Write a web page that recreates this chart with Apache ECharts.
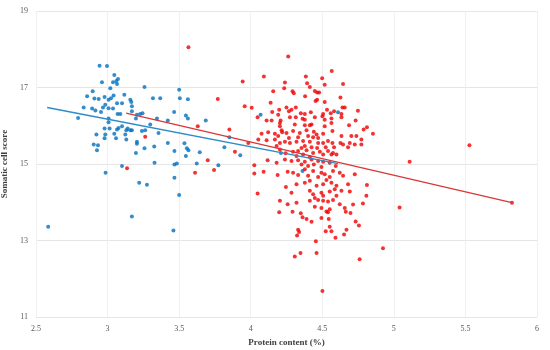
<!DOCTYPE html>
<html><head><meta charset="utf-8">
<script src="https://cdn.jsdelivr.net/npm/echarts@6/dist/echarts.min.js"></script>
<style>html,body{margin:0;padding:0;background:#fff}#c{width:550px;height:350px}</style>
</head><body><div id="c"></div>
<script>
const xAxisName = "Protein content (%)";
const yAxisName = "Somatic cell score";
const xRange = [2.5, 6, 0.5];
const yRange = [11, 19, 2];

const blueData = [
[2.944,17.57],[2.996,17.56],[3.047,17.33],[3.073,17.22],[3.061,17.17],[2.961,17.14],[3.038,17.14],[3.066,17.09],
[3.019,16.98],[3.258,17.01],[2.896,16.90],[2.857,16.77],[3.042,16.79],[3.117,16.81],[2.979,16.75],[2.908,16.71],
[2.938,16.70],[3.007,16.68],[3.024,16.72],[3.159,16.68],[3.317,16.72],[3.368,16.72],[3.066,16.59],[3.101,16.59],
[3.166,16.62],[2.984,16.55],[2.833,16.48],[2.892,16.45],[2.968,16.48],[3.007,16.46],[3.038,16.45],[2.915,16.40],
[2.954,16.36],[3.170,16.51],[3.070,16.31],[3.089,16.31],[3.170,16.38],[3.205,16.29],[3.228,16.31],[3.244,16.33],
[2.794,16.20],[3.007,16.19],[3.198,16.19],[3.345,16.19],[3.500,16.94],[3.505,16.72],[3.561,16.69],[3.465,16.36],
[3.547,16.27],[3.561,16.19],[4.069,16.29],[3.686,16.14],[3.421,16.14],[4.610,16.35],[3.007,16.09],[2.979,15.93],
[3.014,15.93],[3.077,15.94],[3.101,15.99],[3.066,15.90],[3.131,15.88],[3.140,15.93],[3.159,15.88],[3.170,15.88],
[2.922,15.77],[2.984,15.77],[3.047,15.79],[3.124,15.77],[3.240,15.86],[3.263,15.88],[3.298,16.03],[3.356,15.81],
[2.979,15.67],[3.059,15.67],[3.131,15.64],[3.205,15.58],[3.205,15.53],[2.903,15.51],[2.933,15.49],[2.926,15.36],
[3.326,15.46],[3.258,15.41],[3.198,15.29],[3.328,15.03],[3.101,14.95],[2.986,14.77],[3.221,14.51],[3.275,14.46],
[3.851,15.70],[3.421,15.55],[3.537,15.54],[3.554,15.41],[3.565,15.36],[3.644,15.31],[3.467,15.34],[3.816,15.44],
[3.547,15.21],[3.927,15.23],[4.211,15.29],[3.623,15.01],[3.467,14.99],[3.484,15.01],[3.774,14.97],[3.467,14.64],
[3.500,14.19],[4.362,14.82],[2.585,13.36],[3.170,13.63],[3.460,13.26]
];

const redData = [
[3.565,18.05],[4.262,17.81],[4.092,17.29],[3.944,17.16],[4.239,17.13],[4.234,16.98],[4.157,16.90],[3.770,16.70],
[4.139,16.60],[3.958,16.51],[4.007,16.47],[4.250,16.48],[4.150,16.36],[4.199,16.42],[4.267,16.38],[4.048,16.22],
[4.192,16.29],[4.111,16.14],[4.146,16.14],[4.209,16.14],[4.566,17.43],[4.385,17.29],[4.499,17.24],[4.394,17.11],
[4.517,17.07],[4.645,17.09],[4.413,17.01],[4.292,16.90],[4.301,16.85],[4.448,16.91],[4.464,16.87],[4.478,16.87],
[4.380,16.77],[4.627,16.74],[4.464,16.68],[4.453,16.65],[4.517,16.62],[4.315,16.48],[4.285,16.42],[4.641,16.48],
[4.657,16.48],[4.533,16.42],[4.749,16.39],[4.350,16.33],[4.378,16.31],[4.420,16.35],[4.506,16.31],[4.501,16.25],
[4.559,16.33],[4.582,16.38],[4.634,16.31],[4.634,16.22],[4.315,16.22],[4.274,16.22],[4.362,16.18],[4.378,16.16],
[4.448,16.22],[4.517,16.16],[4.564,16.19],[4.733,16.14],[3.263,15.71],[3.136,14.89],[3.630,15.99],[3.851,15.90],
[4.204,16.07],[4.204,15.99],[4.216,15.88],[4.076,15.79],[4.122,15.83],[4.169,15.79],[4.192,15.73],[4.220,15.83],
[4.250,15.81],[3.983,15.55],[4.053,15.64],[4.111,15.62],[4.169,15.64],[4.204,15.55],[4.239,15.58],[4.267,15.68],
[3.890,15.32],[4.204,15.38],[4.181,15.47],[4.244,15.28],[3.700,15.10],[4.025,14.97],[4.118,15.10],[4.181,15.03],
[4.239,15.12],[3.744,14.84],[3.611,14.77],[4.025,14.75],[4.090,14.80],[4.188,14.71],[4.258,14.80],[4.246,14.40],
[4.048,14.23],[4.204,14.04],[4.258,13.95],[4.308,16.03],[4.378,16.01],[4.413,16.01],[4.425,16.03],[4.517,15.99],
[4.564,16.07],[4.687,16.01],[4.789,15.90],[4.812,15.96],[4.296,15.86],[4.343,15.81],[4.390,15.88],[4.441,15.84],
[4.460,15.77],[4.506,15.79],[4.571,15.86],[4.331,15.70],[4.401,15.73],[4.436,15.70],[4.471,15.68],[4.634,15.73],
[4.703,15.73],[4.738,15.73],[4.854,15.79],[4.773,15.64],[4.274,15.55],[4.320,15.58],[4.366,15.60],[4.413,15.58],
[4.471,15.55],[4.506,15.55],[4.540,15.60],[4.571,15.55],[4.645,15.51],[4.692,15.55],[4.727,15.51],[4.773,15.51],
[4.378,15.47],[4.425,15.44],[4.464,15.42],[4.524,15.44],[4.582,15.44],[4.627,15.55],[4.680,15.44],[4.355,15.42],
[4.296,15.32],[4.331,15.34],[4.390,15.36],[4.436,15.29],[4.483,15.32],[4.540,15.34],[4.575,15.29],[4.320,15.21],
[4.366,15.25],[4.413,15.18],[4.506,15.25],[4.564,15.25],[4.599,15.25],[4.285,15.08],[4.331,15.10],[4.378,15.06],
[4.425,15.12],[4.471,15.08],[4.506,15.06],[4.552,15.03],[4.355,14.99],[4.401,14.95],[4.441,14.99],[4.494,14.92],
[4.594,14.95],[5.110,15.06],[4.296,14.77],[4.378,14.86],[4.436,14.82],[4.494,14.77],[4.517,14.73],[4.575,14.82],
[4.622,14.77],[4.331,14.71],[4.401,14.69],[4.471,14.66],[4.552,14.66],[4.645,14.69],[4.727,14.73],[4.320,14.47],
[4.378,14.51],[4.413,14.56],[4.460,14.43],[4.506,14.47],[4.564,14.51],[4.599,14.43],[4.680,14.47],[4.812,14.45],
[4.529,14.58],[4.285,14.25],[4.413,14.30],[4.436,14.21],[4.494,14.25],[4.552,14.28],[4.587,14.34],[4.634,14.30],
[4.692,14.28],[4.808,14.17],[4.599,14.17],[4.506,14.17],[4.320,13.99],[4.413,14.04],[4.448,14.11],[4.471,14.06],
[4.506,14.04],[4.540,14.02],[4.575,14.06],[4.622,13.95],[4.715,13.94],[4.448,13.88],[4.494,13.85],[4.552,13.82],
[4.657,13.85],[5.040,13.86],[4.784,13.97],[5.528,15.49],[5.825,13.99],[4.199,13.74],[4.292,13.75],[4.350,13.71],
[4.362,13.61],[4.390,13.56],[4.425,13.49],[4.494,13.59],[4.529,13.76],[4.540,13.74],[4.545,13.56],[4.552,13.36],
[4.524,13.24],[4.564,13.24],[4.592,13.07],[4.652,13.16],[4.669,13.28],[4.664,13.75],[4.697,13.72],[4.733,13.50],
[4.756,13.39],[4.331,13.28],[4.338,13.22],[4.324,13.13],[4.455,12.98],[4.348,12.67],[4.308,12.58],[4.460,12.67],
[4.761,12.51],[4.924,12.80],[4.501,11.68]
];

const blueTrend = [[2.578,16.48],[4.610,15.01]];
const redTrend = [[3.130,16.33],[5.825,13.99]];

const chart = echarts.init(document.getElementById('c'));
const labelFont = "'Liberation Serif', 'DejaVu Serif', serif";
chart.setOption({
  animation:false,
  backgroundColor:'#fff',
  grid:{left:36,right:13,top:11,bottom:33,containLabel:false,outerBoundsMode:'none'},
  xAxis:{type:'value',min:xRange[0],max:xRange[1],interval:xRange[2],
    name:xAxisName,nameLocation:'middle',nameGap:20,
    nameTextStyle:{color:'#404040',fontSize:9,fontWeight:'bold',fontFamily:labelFont},
    axisLine:{show:false},axisTick:{show:false},
    axisLabel:{color:'#595959',fontSize:8,fontFamily:labelFont,margin:8},
    splitLine:{show:true,lineStyle:{color:'#f0f0f0',width:1}}},
  yAxis:{type:'value',min:yRange[0],max:yRange[1],interval:yRange[2],
    name:yAxisName,nameLocation:'middle',nameGap:24,nameRotate:90,
    nameTextStyle:{color:'#404040',fontSize:9,fontWeight:'bold',fontFamily:labelFont},
    axisLine:{show:false},axisTick:{show:false},
    axisLabel:{color:'#595959',fontSize:8,fontFamily:labelFont,margin:8},
    splitLine:{show:true,lineStyle:{color:'#e6e6e6',width:1}}},
  series:[
    {type:'scatter',data:blueData,symbolSize:4,itemStyle:{color:'#0070C0'},z:3},
    {type:'scatter',data:redData,symbolSize:4,itemStyle:{color:'#F00000'},z:3},
    {type:'line',data:blueTrend,symbol:'none',lineStyle:{color:'#2E8BC8',width:1.5},z:4},
    {type:'line',data:redTrend,symbol:'none',lineStyle:{color:'#D93838',width:1.5},z:4}
  ]
});
</script>
</body></html>
